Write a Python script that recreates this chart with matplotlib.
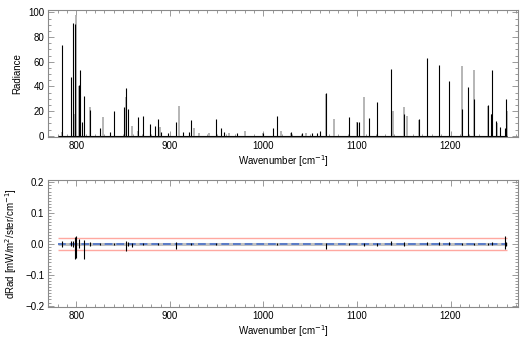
import matplotlib
matplotlib.use("Agg")
import matplotlib.pyplot as plt
from matplotlib.ticker import MultipleLocator

plt.rcParams['font.family'] = ['Liberation Sans', 'DejaVu Sans']
plt.rcParams['font.size'] = 7

# spectral range
wn_range = [780, 1260]

# black spectrum peaks (wavenumber, radiance)
black_wn = [785, 794.3, 796.5, 799, 803.2, 804.3, 806.4, 808.5, 814.6, 825.6, 836, 840.6,
            850.6, 853, 855.6, 865.6, 871.6, 879, 884, 887.3, 890.5, 898, 906.5, 914.3, 920,
            922.9, 949.3, 954.8, 958, 972, 999.8, 1010.5, 1014.7, 1029, 1040.8, 1051.5, 1056.8,
            1060.4, 1066.8, 1091.7, 1100.2, 1102, 1112.4, 1121.6, 1136.6, 1149.8, 1165.8,
            1174.7, 1187.8, 1198.5, 1212.4, 1219.2, 1225.6, 1239.8, 1243, 1244.4, 1249.1,
            1253.4, 1258, 1259.8]
black_rad = [73.5, 48, 91.6, 90.5, 41, 53, 11.4, 32, 21, 6.5, 3, 20,
             23.5, 38.6, 21.9, 14.9, 16, 9.7, 7.8, 13.5, 3, 2, 11.4, 3, 3,
             12.7, 13.8, 6, 3, 2, 2, 6, 16, 3, 2, 2, 2,
             4, 34.6, 15.4, 10.8, 11.4, 14.3, 27.6, 54.3, 18, 13.5,
             63.2, 57, 44.6, 22, 39.2, 30, 24.9, 18, 53.2, 12.2,
             7, 6, 29.5]

# gray spectrum peaks
gray_wn = [785, 797.3, 799.7, 803.2, 814.6, 828.2, 853.4, 859.2, 865.8, 889.1, 909.7, 925.7,
           931, 942, 963, 980, 1000, 1018.4, 1029.5, 1045, 1066.8, 1075, 1100.5, 1107.7,
           1138.4, 1149.8, 1153, 1166, 1212.4, 1225.6, 1239.8, 1244.4, 1249.5, 1260]
gray_rad = [3, 18, 97.8, 40, 23, 15.4, 31.6, 7.8, 4, 7, 24, 6,
            2, 2, 2, 4, 2, 4, 2, 2, 34, 13.8, 11, 31.1,
            20, 23.3, 16, 13, 56.5, 53.2, 24, 18, 10, 20]

# residuals (wavenumber, upper, lower)
res_wn = [785, 794.3, 796.5, 799, 800, 803.2, 808.5, 814.6, 825.6, 840.6, 853, 855.6, 859.2,
          871.6, 887.3, 906.5, 922.9, 949.3, 1014.7, 1066.8, 1091.7, 1107.7, 1121.6,
          1136.6, 1149.8, 1174.7, 1187.8, 1198.5, 1212.4, 1225.6, 1239.8, 1244.4, 1258.3, 1259.8]
res_hi = [0.01, 0.008, 0.01, 0.024, 0.025, 0.015, 0.013, 0.005, 0.003, 0.004, 0.01, 0.005, 0.002,
          0.003, 0.003, 0.007, 0.003, 0.003, 0.003, 0.004, 0.002, 0.002, 0.003,
          0.008, 0.005, 0.007, 0.005, 0.005, 0.003, 0.003, 0.003, 0.005, 0.025, 0.005]
res_lo = [-0.009, -0.008, -0.01, -0.05, -0.045, -0.012, -0.05, -0.005, -0.003, -0.004, -0.022, -0.005, -0.01,
          -0.003, -0.003, -0.015, -0.003, -0.003, -0.003, -0.015, -0.002, -0.008, -0.008,
          -0.003, -0.005, -0.003, -0.003, -0.003, -0.003, -0.003, -0.003, -0.003, -0.015, -0.005]

threshold = 0.02

frame_col = '#8a8a8a'

fig = plt.figure(figsize=(5.27, 3.39), dpi=100)
ax1 = fig.add_axes([0.0917, 0.595, 0.891, 0.3755])
ax2 = fig.add_axes([0.0917, 0.0935, 0.891, 0.3755])

# top panel
ax1.hlines(0, wn_range[0], wn_range[1], color='black', lw=0.8)
ax1.vlines(gray_wn, 0, gray_rad, color='#b0b0b0', lw=1.3)
ax1.vlines(black_wn, 0, black_rad, color='black', lw=0.8)
ax1.set_xlim(770, 1272)
ax1.set_ylim(-1.2, 101.9)
ax1.yaxis.set_major_locator(MultipleLocator(20))
ax1.yaxis.set_minor_locator(MultipleLocator(5))
ax1.set_ylabel('Radiance')
ax1.set_xlabel('Wavenumber [cm$^{-1}$]', labelpad=1)

# bottom panel
ax2.hlines(0, wn_range[0], wn_range[1], color='#c0c0c0', lw=2.2)
ax2.hlines(0, wn_range[0], wn_range[1], color='#5a7cc8', lw=1.4, linestyles=(0, (4, 2)))
ax2.hlines([threshold, -threshold], wn_range[0], wn_range[1], color='#ffa8a0', lw=1.0)
ax2.vlines(res_wn, res_lo, res_hi, color='black', lw=0.8)
ax2.set_xlim(770, 1272)
ax2.set_ylim(-0.2055, 0.2075)
ax2.yaxis.set_major_locator(MultipleLocator(0.1))
ax2.yaxis.set_minor_locator(MultipleLocator(0.01))
ax2.set_ylabel('dRad [mW/m$^2$/ster/cm$^{-1}$]')
ax2.set_xlabel('Wavenumber [cm$^{-1}$]', labelpad=1)

for ax in (ax1, ax2):
    ax.xaxis.set_major_locator(MultipleLocator(100))
    ax.xaxis.set_minor_locator(MultipleLocator(10))
    ax.tick_params(which='both', direction='in', top=True, right=True, color=frame_col,
                   labelsize=7, pad=3)
    ax.tick_params(which='major', length=4, width=0.6)
    ax.tick_params(which='minor', length=2, width=0.6)
    for s in ax.spines.values():
        s.set_color(frame_col)
        s.set_linewidth(0.8)

fig.savefig('out.png', dpi=100)
